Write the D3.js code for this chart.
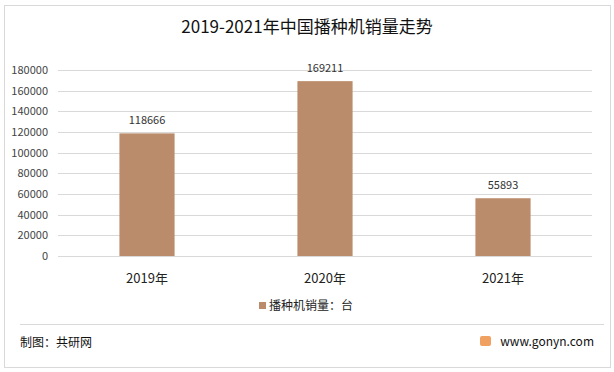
<!DOCTYPE html>
<html>
<head>
<meta charset="utf-8">
<script src="https://cdn.jsdelivr.net/npm/d3@7"></script>
<style>
  body { margin: 0; background: #fff; }
  text { font-family: "Microsoft YaHei", "Noto Sans CJK SC", sans-serif; }
</style>
</head>
<body>
<script>
const years = ["2019年", "2020年", "2021年"];
const sales = [118666, 169211, 55893];
const yTicks = [0, 20000, 40000, 60000, 80000, 100000, 120000, 140000, 160000, 180000];

const W = 614, H = 372;
const svg = d3.select("body")
        .append("svg")
        .attr("width", W)
        .attr("height", H);

// outer frame
svg.append("rect")
  .attr("x", 4.5).attr("y", 5.5)
  .attr("width", 606).attr("height", 362)
  .attr("fill", "#fff")
  .attr("stroke", "#d9d9d9");

svg.append("text")
  .attr("x", 307).attr("y", 33)
  .attr("text-anchor", "middle")
  .attr("font-size", 17)
  .attr("fill", "#111")
  .text("2019-2021年中国播种机销量走势");

const x = d3.scaleBand().domain(years).range([58, 592]);
const y = d3.scaleLinear().domain([0, 180000]).range([256, 70]);

// gridlines
svg.selectAll("line.grid")
  .data(yTicks)
  .enter()
  .append("line")
  .attr("class", "grid")
  .attr("x1", 58).attr("x2", 592)
  .attr("y1", d => Math.round(y(d)) + 0.5)
  .attr("y2", d => Math.round(y(d)) + 0.5)
  .attr("stroke", "#d9d9d9");

svg.selectAll("text.ytick")
  .data(yTicks)
  .enter()
  .append("text")
  .attr("class", "ytick")
  .attr("x", 48).attr("y", d => y(d) + 4)
  .attr("text-anchor", "end")
  .attr("font-size", 11)
  .attr("fill", "#444")
  .text(d => d);

const bw = x.bandwidth() * 0.31;

svg.selectAll("rect.bar")
  .data(sales)
  .enter()
  .append("rect")
  .attr("class", "bar")
  .attr("x", (d, i) => x(years[i]) + x.bandwidth() / 2 - bw / 2)
  .attr("y", d => y(d))
  .attr("width", bw)
  .attr("height", d => y(0) - y(d))
  .attr("fill", "#BA8C6B");

svg.selectAll("text.val")
  .data(sales)
  .enter()
  .append("text")
  .attr("class", "val")
  .attr("x", (d, i) => x(years[i]) + x.bandwidth() / 2)
  .attr("y", d => y(d) - 9)
  .attr("text-anchor", "middle")
  .attr("font-size", 11)
  .attr("fill", "#333")
  .text(d => d);

svg.selectAll("text.cat")
  .data(years)
  .enter()
  .append("text")
  .attr("class", "cat")
  .attr("x", d => x(d) + x.bandwidth() / 2)
  .attr("y", 283)
  .attr("text-anchor", "middle")
  .attr("font-size", 13)
  .attr("fill", "#222")
  .text(d => d);

// legend
svg.append("rect")
  .attr("x", 259).attr("y", 302)
  .attr("width", 7).attr("height", 7)
  .attr("fill", "#BA8C6B");
svg.append("text")
  .attr("x", 269).attr("y", 310)
  .attr("font-size", 12)
  .attr("fill", "#222")
  .text("播种机销量：台");

// footer
svg.append("line")
  .attr("x1", 20).attr("x2", 604)
  .attr("y1", 324.5).attr("y2", 324.5)
  .attr("stroke", "#d9d9d9");

svg.append("text")
  .attr("x", 20).attr("y", 347)
  .attr("font-size", 12)
  .attr("fill", "#111")
  .text("制图：共研网");

svg.append("rect")
  .attr("x", 480).attr("y", 336)
  .attr("width", 11).attr("height", 10)
  .attr("rx", 2)
  .attr("fill", "#F0A060");
svg.append("text")
  .attr("x", 594).attr("y", 346)
  .attr("text-anchor", "end")
  .attr("font-size", 12)
  .attr("fill", "#111")
  .text("www.gonyn.com");
</script>
</body>
</html>
